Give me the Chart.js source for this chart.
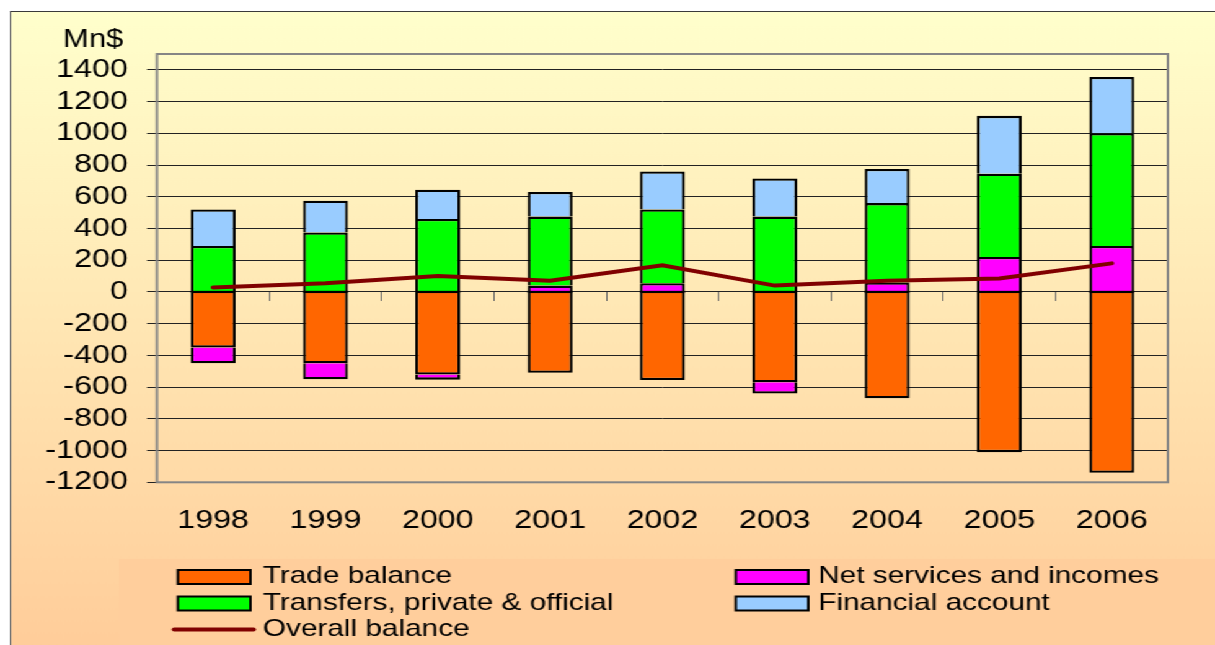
<!DOCTYPE html>
<html>
<head>
<meta charset="utf-8">
<script src="https://cdn.jsdelivr.net/npm/chart.js@4.4.1/dist/chart.umd.min.js"></script>
<style>
html, body { margin: 0; padding: 0; background: #fff; overflow: hidden; }
#stage {
  position: absolute; left: 0; top: 0;
  width: 980px; height: 645px;
  transform: scaleX(1.2398); transform-origin: 0 0;
}
#frame {
  position: absolute; left: 7.7px; top: 11px;
  width: 1000px; height: 645px;
  border-left: 1.5px solid #3a3a3a; border-top: 1.5px solid #3a3a3a;
  background: linear-gradient(#ffffcc, #ffcc99);
}
#legendBox {
  position: absolute; left: 96px; top: 559px;
  width: 900px; height: 100px;
  background: #ffce9c;
}
canvas { position: absolute; left: 0; top: 0; }
</style>
</head>
<body>
<div id="stage">
  <div id="frame"></div>
  <div id="legendBox"></div>
  <canvas id="bopChart" width="980" height="645"></canvas>
</div>
<script>
const years = ["1998", "1999", "2000", "2001", "2002", "2003", "2004", "2005", "2006"]

const tradeBalance = [-350, -450, -520, -510, -555, -570, -670, -1010, -1140]
const netServices = [-100, -100, -33, 40, 55, -70, 60, 220, 290]
const transfers = [290, 375, 460, 435, 465, 475, 500, 525, 710]
const financialAccount = [230, 200, 185, 155, 240, 240, 215, 365, 355]
const overallBalance = [28, 55, 100, 70, 168, 40, 70, 85, 180]

const yTicks = [-1200, -1000, -800, -600, -400, -200, 0, 200, 400, 600, 800, 1000, 1200, 1400]
const yMin = -1200
const yMax = 1500

Chart.defaults.font.family = '"Liberation Sans", Arial, sans-serif'
Chart.defaults.color = "#000"


// plot frame, black edge on the zero line, unit label and the legend

const decorations = {
  id: "decorations",

  afterDatasetDraw(chart, args) {
    if (args.index !== 0) return
    let ctx = chart.ctx
    let y0 = chart.scales.y.getPixelForValue(0)
    ctx.save()
    ctx.fillStyle = "#000"
    args.meta.data.forEach(bar => {
      ctx.fillRect(bar.x - bar.width / 2, y0 - 1.1, bar.width, 2.2)
    })
    ctx.restore()
  },

  afterDraw(chart) {
    let ctx = chart.ctx
    let a = chart.chartArea
    ctx.save()

    ctx.strokeStyle = "#858585"
    ctx.lineWidth = 2
    ctx.strokeRect(a.left, a.top, a.right - a.left, a.bottom - a.top)

    ctx.fillStyle = "#000"
    ctx.font = '25px "Liberation Sans", Arial, sans-serif'
    ctx.textAlign = "left"
    ctx.textBaseline = "alphabetic"
    ctx.fillText("Mn$", 50.8, 46.5)

    // two-column legend
    let colBox = [143.5, 593.5]
    let colText = [212, 660]
    let rowY = [577, 603.5, 629.5]
    ctx.font = '24px "Liberation Sans", Arial, sans-serif'
    chart.data.datasets.forEach((ds, i) => {
      let col = i % 2
      let row = Math.floor(i / 2)
      let bx = colBox[col]
      let cy = rowY[row]
      if (ds.type === "line") {
        ctx.strokeStyle = ds.borderColor
        ctx.lineWidth = 4
        ctx.lineCap = "round"
        ctx.beginPath()
        ctx.moveTo(bx - 3, cy)
        ctx.lineTo(bx + 61, cy)
        ctx.stroke()
      } else {
        ctx.fillStyle = ds.backgroundColor
        ctx.fillRect(bx, cy - 7, 58.5, 14)
        ctx.strokeStyle = "#000"
        ctx.lineWidth = 2
        ctx.strokeRect(bx, cy - 7, 58.5, 14)
      }
      ctx.fillStyle = "#000"
      ctx.fillText(ds.label, colText[col], cy + 6)
    })

    ctx.restore()
  }
}


const barStyle = {
  type: "bar",
  stack: "bop",
  borderColor: "#000",
  borderWidth: 2.3,
  barPercentage: 0.4,
  categoryPercentage: 1
}

new Chart(document.getElementById("bopChart"), {

  data: {
    labels: years,
    datasets: [
      { ...barStyle, label: "Trade balance", data: tradeBalance, backgroundColor: "#ff6600" },
      { ...barStyle, label: "Net services and incomes", data: netServices, backgroundColor: "#ff00ff" },
      { ...barStyle, label: "Transfers, private & official", data: transfers, backgroundColor: "#00ff00" },
      { ...barStyle, label: "Financial account", data: financialAccount, backgroundColor: "#99ccff" },
      {
        type: "line",
        label: "Overall balance",
        data: overallBalance,
        stack: "balance",
        order: -1,
        borderColor: "#800000",
        borderWidth: 4,
        borderCapStyle: "round",
        pointRadius: 0,
        pointHoverRadius: 0,
        tension: 0,
        fill: false
      }
    ]
  },

  options: {
    responsive: false,
    animation: false,
    devicePixelRatio: 1,
    layout: { padding: { top: 54, right: 38, left: 0, bottom: 0 } },
    plugins: {
      legend: { display: false },
      tooltip: { enabled: false }
    },
    scales: {
      x: {
        stacked: true,
        grid: { display: false, drawTicks: false },
        border: { display: false },
        ticks: { font: { size: 26 }, padding: 23, color: "#000", autoSkip: false },
        afterFit: s => { s.height = 645 - 482.3 }
      },
      x2: {
        axis: "x",
        type: "category",
        position: { y: 0 },
        offset: true,
        grid: { offset: true, drawOnChartArea: false, drawTicks: true, tickLength: 9, color: "#6a6a6a" },
        border: { display: false },
        ticks: { display: false }
      },
      y: {
        stacked: true,
        min: yMin,
        max: yMax,
        afterBuildTicks: s => { s.ticks = yTicks.map(v => ({ value: v })) },
        afterFit: s => { s.width = 126.6 },
        ticks: {
          font: { size: 26 },
          padding: 15.5,
          color: "#000",
          autoSkip: false,
          callback: v => String(v)
        },
        grid: { color: "#222", lineWidth: 1, tickLength: 8 },
        border: { display: false }
      }
    }
  },

  plugins: [decorations]

})
</script>
</body>
</html>
